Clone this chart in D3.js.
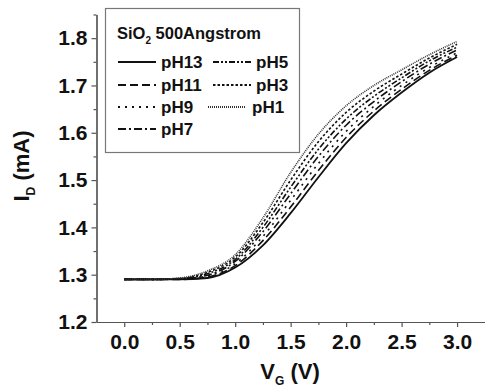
<!DOCTYPE html>
<html>
<head>
<meta charset="utf-8">
<script src="https://cdn.jsdelivr.net/npm/d3@7"></script>
<style>
  body { margin: 0; background: #fff; }
  text { font-family: "Liberation Sans", Arial, sans-serif; font-weight: bold; }
</style>
</head>
<body>
<div id="chart-container"></div>
<script>
// gate voltage (V)
const vg = [0, 0.25, 0.5, 0.75, 1.0, 1.25, 1.5, 1.75, 2.0, 2.25, 2.5, 2.75, 3.0];

// drain current (mA)
const pH13 = [1.290, 1.290, 1.290, 1.293, 1.315, 1.362, 1.430, 1.506, 1.578, 1.637, 1.685, 1.727, 1.760];
const pH11 = [1.290, 1.290, 1.290, 1.295, 1.319, 1.372, 1.443, 1.520, 1.590, 1.646, 1.692, 1.732, 1.764];
const pH9  = [1.290, 1.290, 1.291, 1.297, 1.323, 1.381, 1.457, 1.535, 1.603, 1.656, 1.700, 1.738, 1.769];
const pH7  = [1.290, 1.290, 1.291, 1.299, 1.328, 1.391, 1.471, 1.550, 1.616, 1.666, 1.708, 1.745, 1.775];
const pH5  = [1.290, 1.290, 1.292, 1.302, 1.332, 1.400, 1.485, 1.565, 1.629, 1.677, 1.716, 1.752, 1.781];
const pH3  = [1.290, 1.290, 1.292, 1.305, 1.337, 1.410, 1.500, 1.581, 1.643, 1.688, 1.724, 1.758, 1.787];
const pH1  = [1.290, 1.290, 1.293, 1.308, 1.342, 1.420, 1.516, 1.597, 1.657, 1.700, 1.733, 1.765, 1.793];

const seriesNames = ["pH13", "pH11", "pH9", "pH7", "pH5", "pH3", "pH1"];
const seriesValues = [pH13, pH11, pH9, pH7, pH5, pH3, pH1];

const xTicks = [0, 0.5, 1.0, 1.5, 2.0, 2.5, 3.0];
const xMinor = [0.25, 0.75, 1.25, 1.75, 2.25, 2.75];
const yTicks = [1.2, 1.3, 1.4, 1.5, 1.6, 1.7, 1.8];
const yMinor = [1.25, 1.35, 1.45, 1.55, 1.65, 1.75, 1.85];

const dashes = {
    pH13: null,
    pH11: "8,4",
    pH9: "2,5",
    pH7: "8,3,2,3",
    pH5: "6,2,2,2,2,2",
    pH3: "2.5,2",
    pH1: "1,1"
};

const width = 485, height = 392;

const svg = d3.select("#chart-container")
    .append("svg")
    .attr("width", width)
    .attr("height", height);

const x = d3.scaleLinear().domain([-0.25, 3.25]).range([96.5, 484.8]);
const y = d3.scaleLinear().domain([1.2, 1.85]).range([322, 14.5]);

// axes
const axisColor = "#555";

svg.append("g")
    .attr("transform", "translate(0,322)")
    .call(d3.axisBottom(x).tickValues(xTicks).tickFormat(d3.format(".1f")).tickSize(5).tickSizeOuter(0).tickPadding(7));
svg.append("g")
    .attr("transform", "translate(0,322)")
    .call(d3.axisBottom(x).tickValues(xMinor).tickFormat("").tickSize(3).tickSizeOuter(0));

svg.append("g")
    .attr("transform", "translate(96.5,0)")
    .call(d3.axisLeft(y).tickValues(yTicks).tickFormat(d3.format(".1f")).tickSize(5).tickSizeOuter(0).tickPadding(4));
svg.append("g")
    .attr("transform", "translate(96.5,0)")
    .call(d3.axisLeft(y).tickValues(yMinor).tickFormat("").tickSize(3).tickSizeOuter(0));

svg.selectAll(".domain").attr("stroke", axisColor).attr("stroke-width", 1.2);
svg.selectAll(".tick line").attr("stroke", axisColor).attr("stroke-width", 1.2);
svg.selectAll(".tick text")
    .attr("fill", "#111")
    .style("font-size", "21px")
    .style("font-weight", "bold")
    .style("font-family", "'Liberation Sans', Arial, sans-serif");

// axis titles
const xTitle = svg.append("text")
    .attr("x", 290)
    .attr("y", 379)
    .attr("text-anchor", "middle")
    .style("font-size", "22px")
    .attr("fill", "#111");
xTitle.append("tspan").text("V");
xTitle.append("tspan").attr("dy", 6).style("font-size", "12px").text("G");
xTitle.append("tspan").attr("dy", -6).text(" (V)");

const yTitle = svg.append("text")
    .attr("transform", "translate(29,166) rotate(-90)")
    .attr("text-anchor", "middle")
    .style("font-size", "22px")
    .attr("fill", "#111");
yTitle.append("tspan").text("I");
yTitle.append("tspan").attr("dy", 6).style("font-size", "12px").text("D");
yTitle.append("tspan").attr("dy", -6).text(" (mA)");

// curves
const line = d3.line()
    .x((d, i) => x(vg[i]))
    .y(d => y(d))
    .curve(d3.curveMonotoneX);

seriesValues.forEach((vals, k) => {
    const name = seriesNames[k];
    svg.append("path")
        .datum(vals)
        .attr("fill", "none")
        .attr("stroke", name === "pH1" ? "#333" : "#111")
        .attr("stroke-width", name === "pH13" ? 1.8 : 1.6)
        .attr("stroke-dasharray", dashes[name])
        .attr("d", line);
});

// legend
svg.append("rect")
    .attr("x", 105.5).attr("y", 8.5)
    .attr("width", 194).attr("height", 144)
    .attr("fill", "#fff")
    .attr("stroke", "#777")
    .attr("stroke-width", 1.2);

const lt = svg.append("text")
    .attr("x", 117).attr("y", 39)
    .style("font-size", "16.5px")
    .attr("fill", "#111");
lt.append("tspan").text("SiO");
lt.append("tspan").attr("dy", 5).style("font-size", "10px").text("2");
lt.append("tspan").attr("dy", -5).text(" 500Angstrom");

const legendPos = [
    { name: "pH13", lx: 118, tx: 161, cy: 62 },
    { name: "pH11", lx: 118, tx: 161, cy: 85 },
    { name: "pH9",  lx: 118, tx: 161, cy: 107 },
    { name: "pH7",  lx: 118, tx: 161, cy: 129 },
    { name: "pH5",  lx: 213, tx: 256, cy: 62 },
    { name: "pH3",  lx: 213, tx: 256, cy: 85 },
    { name: "pH1",  lx: 208, tx: 252, cy: 107 }
];

legendPos.forEach(p => {
    svg.append("line")
        .attr("x1", p.lx).attr("x2", p.lx + 38)
        .attr("y1", p.cy).attr("y2", p.cy)
        .attr("stroke", p.name === "pH1" ? "#333" : "#111")
        .attr("stroke-width", 1.8)
        .attr("stroke-dasharray", dashes[p.name]);
    svg.append("text")
        .attr("x", p.tx).attr("y", p.cy + 6)
        .style("font-size", "17px")
        .attr("fill", "#111")
        .text(p.name);
});
</script>
</body>
</html>
